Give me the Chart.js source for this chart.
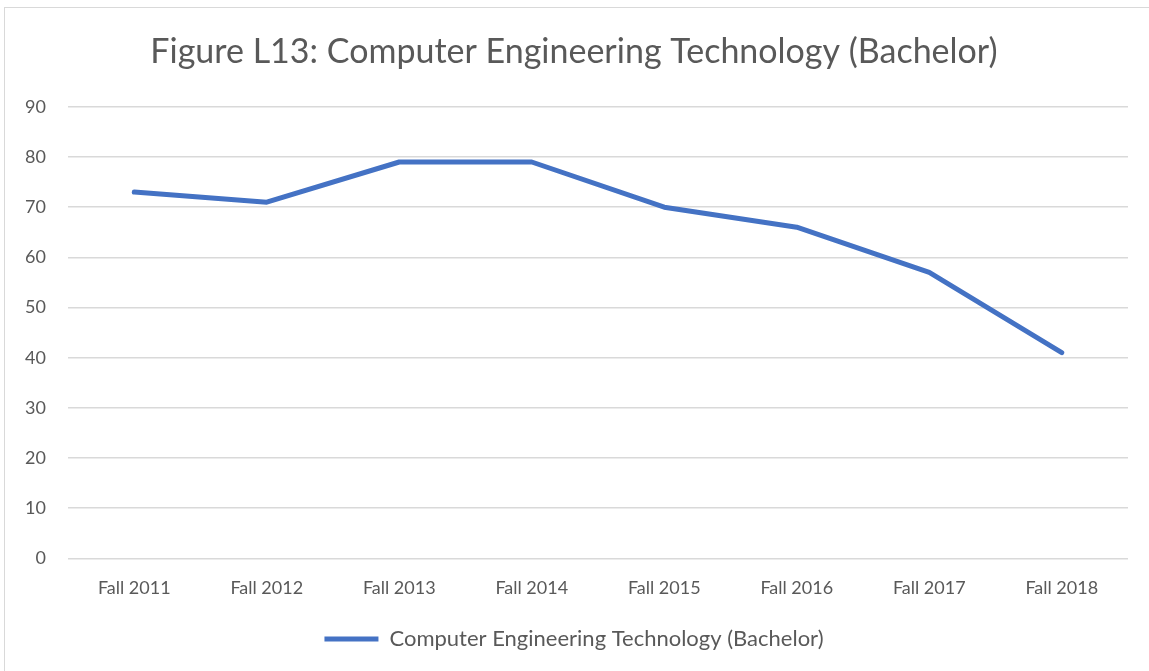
<!DOCTYPE html>
<html>
<head>
<meta charset="utf-8">
<script src="https://cdn.jsdelivr.net/npm/chart.js@4.4.0/dist/chart.umd.min.js"></script>
<style>
  html, body { margin: 0; padding: 0; background: #fff; }
  .frame { position: absolute; left: 4px; top: 7px; width: 1160px; height: 680px; border: 1px solid #d9d9d9; }
  .wrap { position: absolute; left: 0; top: 0; width: 1149px; height: 671px; }
</style>
</head>
<body>
<div class="frame"></div>
<div class="wrap"><canvas id="grafico"></canvas></div>
<script>
// dados do grafico
const categorias = ['Fall 2011', 'Fall 2012', 'Fall 2013', 'Fall 2014', 'Fall 2015', 'Fall 2016', 'Fall 2017', 'Fall 2018'];
const valores = [73, 71, 79, 79, 70, 66, 57, 41];
const serieNome = 'Computer Engineering Technology (Bachelor)';
const titulo = 'Figure L13: Computer Engineering Technology (Bachelor)';

const corTexto = '#595959';
const fonte = "Lato, 'Open Sans', sans-serif";

const config = {
    type: 'line',
    data: {
        labels: categorias,
        datasets: [{
            label: serieNome,
            data: valores,
            borderColor: '#4472C4',
            backgroundColor: '#4472C4',
            borderWidth: 5,
            borderCapStyle: 'round',
            borderJoinStyle: 'round',
            pointRadius: 0,
            pointHoverRadius: 0,
            tension: 0
        }]
    },
    options: {
        responsive: true,
        maintainAspectRatio: false,
        animation: false,
        // padding esquerda pra puxar titulo e legenda um pouco pra direita
        layout: { padding: { left: 20, right: 21, top: 0, bottom: 11 } },
        plugins: {
            title: {
                display: true,
                text: titulo,
                color: corTexto,
                font: { family: fonte, size: 34, weight: 'normal' },
                padding: { top: 32, bottom: 34 }
            },
            legend: {
                position: 'bottom',
                labels: {
                    color: corTexto,
                    font: { family: fonte, size: 22 },
                    usePointStyle: true,
                    pointStyle: 'line',
                    pointStyleWidth: 54,
                    padding: 10
                }
            },
            tooltip: { enabled: false }
        },
        scales: {
            x: {
                offset: true,
                grid: { display: false, drawTicks: false },
                border: { display: false },
                ticks: { color: corTexto, font: { family: fonte, size: 18 }, padding: 19, maxRotation: 0 }
            },
            y: {
                min: 0,
                max: 90,
                afterFit: (scale) => { scale.width = 48 },
                grid: { color: '#d9d9d9', lineWidth: 1.5, drawTicks: false },
                border: { display: false },
                ticks: { stepSize: 10, color: corTexto, font: { family: fonte, size: 18 }, padding: 22 }
            }
        }
    }
};

const meuGrafico = new Chart(document.getElementById('grafico'), config);
</script>
</body>
</html>
